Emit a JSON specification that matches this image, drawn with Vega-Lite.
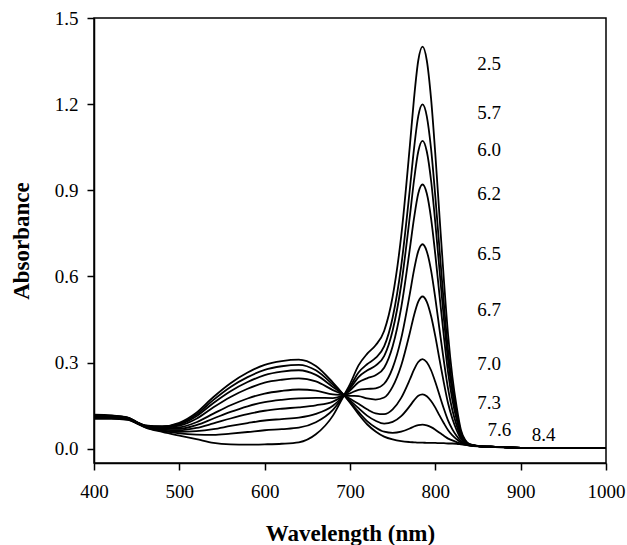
{
  "$schema": "https://vega.github.io/schema/vega-lite/v6.json",
  "width": 512,
  "height": 445,
  "autosize": {"type": "none"},
  "padding": {"left": 94, "top": 18, "right": 21, "bottom": 82},
  "background": "white",
  "config": {
    "font": "Liberation Serif",
    "view": {"stroke": "black", "strokeWidth": 1.5},
    "axis": {
      "grid": false,
      "labelFlush": false,
      "labelOverlap": false,
      "domainColor": "black",
      "domainWidth": 1.5,
      "tickColor": "black",
      "tickWidth": 1.5,
      "tickSize": 7,
      "labelFont": "Liberation Serif",
      "labelFontSize": 19,
      "labelColor": "black",
      "titleFont": "Liberation Serif",
      "titleFontSize": 23,
      "titleFontWeight": "bold",
      "titleColor": "black"
    }
  },
  "datasets": {
    "spectra": [
      {"w":400,"a":0.104,"p":"2.5"},{"w":420,"a":0.104,"p":"2.5"},{"w":440,"a":0.100,"p":"2.5"},{"w":450,"a":0.088,"p":"2.5"},{"w":460,"a":0.074,"p":"2.5"},{"w":480,"a":0.058,"p":"2.5"},{"w":500,"a":0.045,"p":"2.5"},{"w":520,"a":0.033,"p":"2.5"},{"w":540,"a":0.020,"p":"2.5"},{"w":560,"a":0.015,"p":"2.5"},{"w":580,"a":0.014,"p":"2.5"},{"w":600,"a":0.015,"p":"2.5"},{"w":620,"a":0.017,"p":"2.5"},{"w":640,"a":0.022,"p":"2.5"},{"w":660,"a":0.050,"p":"2.5"},{"w":680,"a":0.115,"p":"2.5"},{"w":693,"a":0.186,"p":"2.5"},{"w":700,"a":0.225,"p":"2.5"},{"w":710,"a":0.290,"p":"2.5"},{"w":720,"a":0.330,"p":"2.5"},{"w":730,"a":0.360,"p":"2.5"},{"w":740,"a":0.410,"p":"2.5"},{"w":750,"a":0.530,"p":"2.5"},{"w":760,"a":0.740,"p":"2.5"},{"w":770,"a":1.050,"p":"2.5"},{"w":775,"a":1.219,"p":"2.5"},{"w":780,"a":1.352,"p":"2.5"},{"w":785,"a":1.400,"p":"2.5"},{"w":790,"a":1.352,"p":"2.5"},{"w":795,"a":1.219,"p":"2.5"},{"w":800,"a":1.025,"p":"2.5"},{"w":805,"a":0.805,"p":"2.5"},{"w":810,"a":0.589,"p":"2.5"},{"w":815,"a":0.395,"p":"2.5"},{"w":820,"a":0.250,"p":"2.5"},{"w":825,"a":0.145,"p":"2.5"},{"w":830,"a":0.065,"p":"2.5"},{"w":835,"a":0.030,"p":"2.5"},{"w":840,"a":0.016,"p":"2.5"},{"w":850,"a":0.010,"p":"2.5"},{"w":870,"a":0.006,"p":"2.5"},{"w":900,"a":0.003,"p":"2.5"},{"w":950,"a":0.002,"p":"2.5"},{"w":1000,"a":0.002,"p":"2.5"},

      {"w":400,"a":0.1065,"p":"5.7"},{"w":420,"a":0.106,"p":"5.7"},{"w":440,"a":0.101,"p":"5.7"},{"w":450,"a":0.089,"p":"5.7"},{"w":460,"a":0.075,"p":"5.7"},{"w":480,"a":0.0615,"p":"5.7"},{"w":500,"a":0.053,"p":"5.7"},{"w":520,"a":0.049,"p":"5.7"},{"w":540,"a":0.048,"p":"5.7"},{"w":560,"a":0.0525,"p":"5.7"},{"w":580,"a":0.058,"p":"5.7"},{"w":600,"a":0.064,"p":"5.7"},{"w":620,"a":0.068,"p":"5.7"},{"w":640,"a":0.073,"p":"5.7"},{"w":660,"a":0.092,"p":"5.7"},{"w":680,"a":0.135,"p":"5.7"},{"w":693,"a":0.186,"p":"5.7"},{"w":700,"a":0.2155,"p":"5.7"},{"w":710,"a":0.265,"p":"5.7"},{"w":720,"a":0.294,"p":"5.7"},{"w":730,"a":0.316,"p":"5.7"},{"w":740,"a":0.356,"p":"5.7"},{"w":750,"a":0.457,"p":"5.7"},{"w":760,"a":0.636,"p":"5.7"},{"w":770,"a":0.900,"p":"5.7"},{"w":775,"a":1.044,"p":"5.7"},{"w":780,"a":1.158,"p":"5.7"},{"w":785,"a":1.199,"p":"5.7"},{"w":790,"a":1.1575,"p":"5.7"},{"w":795,"a":1.044,"p":"5.7"},{"w":800,"a":0.878,"p":"5.7"},{"w":805,"a":0.690,"p":"5.7"},{"w":810,"a":0.506,"p":"5.7"},{"w":815,"a":0.340,"p":"5.7"},{"w":820,"a":0.216,"p":"5.7"},{"w":825,"a":0.126,"p":"5.7"},{"w":830,"a":0.0577,"p":"5.7"},{"w":835,"a":0.0275,"p":"5.7"},{"w":840,"a":0.0153,"p":"5.7"},{"w":850,"a":0.009,"p":"5.7"},{"w":870,"a":0.006,"p":"5.7"},{"w":900,"a":0.003,"p":"5.7"},{"w":950,"a":0.002,"p":"5.7"},{"w":1000,"a":0.002,"p":"5.7"},

      {"w":400,"a":0.108,"p":"6.0"},{"w":420,"a":0.108,"p":"6.0"},{"w":440,"a":0.102,"p":"6.0"},{"w":450,"a":0.0895,"p":"6.0"},{"w":460,"a":0.076,"p":"6.0"},{"w":480,"a":0.064,"p":"6.0"},{"w":500,"a":0.0585,"p":"6.0"},{"w":520,"a":0.061,"p":"6.0"},{"w":540,"a":0.068,"p":"6.0"},{"w":560,"a":0.079,"p":"6.0"},{"w":580,"a":0.089,"p":"6.0"},{"w":600,"a":0.098,"p":"6.0"},{"w":620,"a":0.103,"p":"6.0"},{"w":640,"a":0.108,"p":"6.0"},{"w":660,"a":0.121,"p":"6.0"},{"w":680,"a":0.1495,"p":"6.0"},{"w":693,"a":0.186,"p":"6.0"},{"w":700,"a":0.2095,"p":"6.0"},{"w":710,"a":0.2495,"p":"6.0"},{"w":720,"a":0.272,"p":"6.0"},{"w":730,"a":0.289,"p":"6.0"},{"w":740,"a":0.322,"p":"6.0"},{"w":750,"a":0.4115,"p":"6.0"},{"w":760,"a":0.570,"p":"6.0"},{"w":770,"a":0.806,"p":"6.0"},{"w":775,"a":0.934,"p":"6.0"},{"w":780,"a":1.035,"p":"6.0"},{"w":785,"a":1.072,"p":"6.0"},{"w":790,"a":1.035,"p":"6.0"},{"w":795,"a":0.934,"p":"6.0"},{"w":800,"a":0.786,"p":"6.0"},{"w":805,"a":0.618,"p":"6.0"},{"w":810,"a":0.453,"p":"6.0"},{"w":815,"a":0.305,"p":"6.0"},{"w":820,"a":0.195,"p":"6.0"},{"w":825,"a":0.1145,"p":"6.0"},{"w":830,"a":0.053,"p":"6.0"},{"w":835,"a":0.026,"p":"6.0"},{"w":840,"a":0.015,"p":"6.0"},{"w":850,"a":0.009,"p":"6.0"},{"w":870,"a":0.006,"p":"6.0"},{"w":900,"a":0.003,"p":"6.0"},{"w":950,"a":0.002,"p":"6.0"},{"w":1000,"a":0.002,"p":"6.0"},

      {"w":400,"a":0.110,"p":"6.2"},{"w":420,"a":0.109,"p":"6.2"},{"w":440,"a":0.103,"p":"6.2"},{"w":450,"a":0.090,"p":"6.2"},{"w":460,"a":0.077,"p":"6.2"},{"w":480,"a":0.0665,"p":"6.2"},{"w":500,"a":0.064,"p":"6.2"},{"w":520,"a":0.072,"p":"6.2"},{"w":540,"a":0.088,"p":"6.2"},{"w":560,"a":0.105,"p":"6.2"},{"w":580,"a":0.120,"p":"6.2"},{"w":600,"a":0.132,"p":"6.2"},{"w":620,"a":0.139,"p":"6.2"},{"w":640,"a":0.144,"p":"6.2"},{"w":660,"a":0.151,"p":"6.2"},{"w":680,"a":0.164,"p":"6.2"},{"w":693,"a":0.186,"p":"6.2"},{"w":700,"a":0.2024,"p":"6.2"},{"w":710,"a":0.231,"p":"6.2"},{"w":720,"a":0.245,"p":"6.2"},{"w":730,"a":0.256,"p":"6.2"},{"w":740,"a":0.282,"p":"6.2"},{"w":750,"a":0.357,"p":"6.2"},{"w":760,"a":0.4915,"p":"6.2"},{"w":770,"a":0.693,"p":"6.2"},{"w":775,"a":0.802,"p":"6.2"},{"w":780,"a":0.889,"p":"6.2"},{"w":785,"a":0.920,"p":"6.2"},{"w":790,"a":0.8885,"p":"6.2"},{"w":795,"a":0.802,"p":"6.2"},{"w":800,"a":0.675,"p":"6.2"},{"w":805,"a":0.5315,"p":"6.2"},{"w":810,"a":0.391,"p":"6.2"},{"w":815,"a":0.264,"p":"6.2"},{"w":820,"a":0.169,"p":"6.2"},{"w":825,"a":0.1005,"p":"6.2"},{"w":830,"a":0.0476,"p":"6.2"},{"w":835,"a":0.024,"p":"6.2"},{"w":840,"a":0.0143,"p":"6.2"},{"w":850,"a":0.009,"p":"6.2"},{"w":870,"a":0.006,"p":"6.2"},{"w":900,"a":0.003,"p":"6.2"},{"w":950,"a":0.002,"p":"6.2"},{"w":1000,"a":0.002,"p":"6.2"},

      {"w":400,"a":0.111,"p":"6.5"},{"w":420,"a":0.110,"p":"6.5"},{"w":440,"a":0.104,"p":"6.5"},{"w":450,"a":0.0905,"p":"6.5"},{"w":460,"a":0.078,"p":"6.5"},{"w":480,"a":0.0686,"p":"6.5"},{"w":500,"a":0.069,"p":"6.5"},{"w":520,"a":0.082,"p":"6.5"},{"w":540,"a":0.105,"p":"6.5"},{"w":560,"a":0.128,"p":"6.5"},{"w":580,"a":0.1475,"p":"6.5"},{"w":600,"a":0.162,"p":"6.5"},{"w":620,"a":0.170,"p":"6.5"},{"w":640,"a":0.175,"p":"6.5"},{"w":660,"a":0.177,"p":"6.5"},{"w":680,"a":0.176,"p":"6.5"},{"w":693,"a":0.186,"p":"6.5"},{"w":700,"a":0.1926,"p":"6.5"},{"w":710,"a":0.205,"p":"6.5"},{"w":720,"a":0.208,"p":"6.5"},{"w":730,"a":0.210,"p":"6.5"},{"w":740,"a":0.226,"p":"6.5"},{"w":750,"a":0.2815,"p":"6.5"},{"w":760,"a":0.384,"p":"6.5"},{"w":770,"a":0.5375,"p":"6.5"},{"w":775,"a":0.622,"p":"6.5"},{"w":780,"a":0.688,"p":"6.5"},{"w":785,"a":0.712,"p":"6.5"},{"w":790,"a":0.687,"p":"6.5"},{"w":795,"a":0.621,"p":"6.5"},{"w":800,"a":0.5235,"p":"6.5"},{"w":805,"a":0.413,"p":"6.5"},{"w":810,"a":0.305,"p":"6.5"},{"w":815,"a":0.207,"p":"6.5"},{"w":820,"a":0.134,"p":"6.5"},{"w":825,"a":0.081,"p":"6.5"},{"w":830,"a":0.040,"p":"6.5"},{"w":835,"a":0.0215,"p":"6.5"},{"w":840,"a":0.0135,"p":"6.5"},{"w":850,"a":0.009,"p":"6.5"},{"w":870,"a":0.006,"p":"6.5"},{"w":900,"a":0.003,"p":"6.5"},{"w":950,"a":0.002,"p":"6.5"},{"w":1000,"a":0.002,"p":"6.5"},

      {"w":400,"a":0.113,"p":"6.7"},{"w":420,"a":0.112,"p":"6.7"},{"w":440,"a":0.105,"p":"6.7"},{"w":450,"a":0.091,"p":"6.7"},{"w":460,"a":0.0785,"p":"6.7"},{"w":480,"a":0.0708,"p":"6.7"},{"w":500,"a":0.074,"p":"6.7"},{"w":520,"a":0.092,"p":"6.7"},{"w":540,"a":0.122,"p":"6.7"},{"w":560,"a":0.151,"p":"6.7"},{"w":580,"a":0.1746,"p":"6.7"},{"w":600,"a":0.192,"p":"6.7"},{"w":620,"a":0.201,"p":"6.7"},{"w":640,"a":0.206,"p":"6.7"},{"w":660,"a":0.202,"p":"6.7"},{"w":680,"a":0.189,"p":"6.7"},{"w":693,"a":0.186,"p":"6.7"},{"w":700,"a":0.184,"p":"6.7"},{"w":710,"a":0.183,"p":"6.7"},{"w":720,"a":0.175,"p":"6.7"},{"w":730,"a":0.171,"p":"6.7"},{"w":740,"a":0.178,"p":"6.7"},{"w":750,"a":0.216,"p":"6.7"},{"w":760,"a":0.2895,"p":"6.7"},{"w":770,"a":0.402,"p":"6.7"},{"w":775,"a":0.464,"p":"6.7"},{"w":780,"a":0.512,"p":"6.7"},{"w":785,"a":0.530,"p":"6.7"},{"w":790,"a":0.5115,"p":"6.7"},{"w":795,"a":0.462,"p":"6.7"},{"w":800,"a":0.391,"p":"6.7"},{"w":805,"a":0.309,"p":"6.7"},{"w":810,"a":0.229,"p":"6.7"},{"w":815,"a":0.157,"p":"6.7"},{"w":820,"a":0.104,"p":"6.7"},{"w":825,"a":0.064,"p":"6.7"},{"w":830,"a":0.0335,"p":"6.7"},{"w":835,"a":0.019,"p":"6.7"},{"w":840,"a":0.0128,"p":"6.7"},{"w":850,"a":0.009,"p":"6.7"},{"w":870,"a":0.006,"p":"6.7"},{"w":900,"a":0.003,"p":"6.7"},{"w":950,"a":0.002,"p":"6.7"},{"w":1000,"a":0.002,"p":"6.7"},

      {"w":400,"a":0.115,"p":"7.0"},{"w":420,"a":0.113,"p":"7.0"},{"w":440,"a":0.106,"p":"7.0"},{"w":450,"a":0.092,"p":"7.0"},{"w":460,"a":0.079,"p":"7.0"},{"w":480,"a":0.0735,"p":"7.0"},{"w":500,"a":0.080,"p":"7.0"},{"w":520,"a":0.104,"p":"7.0"},{"w":540,"a":0.144,"p":"7.0"},{"w":560,"a":0.180,"p":"7.0"},{"w":580,"a":0.2085,"p":"7.0"},{"w":600,"a":0.230,"p":"7.0"},{"w":620,"a":0.240,"p":"7.0"},{"w":640,"a":0.245,"p":"7.0"},{"w":660,"a":0.234,"p":"7.0"},{"w":680,"a":0.204,"p":"7.0"},{"w":693,"a":0.186,"p":"7.0"},{"w":700,"a":0.1737,"p":"7.0"},{"w":710,"a":0.156,"p":"7.0"},{"w":720,"a":0.137,"p":"7.0"},{"w":730,"a":0.123,"p":"7.0"},{"w":740,"a":0.120,"p":"7.0"},{"w":750,"a":0.137,"p":"7.0"},{"w":760,"a":0.177,"p":"7.0"},{"w":770,"a":0.240,"p":"7.0"},{"w":775,"a":0.275,"p":"7.0"},{"w":780,"a":0.302,"p":"7.0"},{"w":785,"a":0.312,"p":"7.0"},{"w":790,"a":0.301,"p":"7.0"},{"w":795,"a":0.273,"p":"7.0"},{"w":800,"a":0.232,"p":"7.0"},{"w":805,"a":0.185,"p":"7.0"},{"w":810,"a":0.139,"p":"7.0"},{"w":815,"a":0.0975,"p":"7.0"},{"w":820,"a":0.067,"p":"7.0"},{"w":825,"a":0.044,"p":"7.0"},{"w":830,"a":0.0256,"p":"7.0"},{"w":835,"a":0.0166,"p":"7.0"},{"w":840,"a":0.012,"p":"7.0"},{"w":850,"a":0.009,"p":"7.0"},{"w":870,"a":0.006,"p":"7.0"},{"w":900,"a":0.003,"p":"7.0"},{"w":950,"a":0.002,"p":"7.0"},{"w":1000,"a":0.002,"p":"7.0"},

      {"w":400,"a":0.116,"p":"7.3"},{"w":420,"a":0.114,"p":"7.3"},{"w":440,"a":0.107,"p":"7.3"},{"w":450,"a":0.092,"p":"7.3"},{"w":460,"a":0.080,"p":"7.3"},{"w":480,"a":0.0754,"p":"7.3"},{"w":500,"a":0.084,"p":"7.3"},{"w":520,"a":0.113,"p":"7.3"},{"w":540,"a":0.159,"p":"7.3"},{"w":560,"a":0.200,"p":"7.3"},{"w":580,"a":0.232,"p":"7.3"},{"w":600,"a":0.256,"p":"7.3"},{"w":620,"a":0.268,"p":"7.3"},{"w":640,"a":0.273,"p":"7.3"},{"w":660,"a":0.257,"p":"7.3"},{"w":680,"a":0.215,"p":"7.3"},{"w":693,"a":0.186,"p":"7.3"},{"w":700,"a":0.168,"p":"7.3"},{"w":710,"a":0.141,"p":"7.3"},{"w":720,"a":0.115,"p":"7.3"},{"w":730,"a":0.097,"p":"7.3"},{"w":740,"a":0.087,"p":"7.3"},{"w":750,"a":0.093,"p":"7.3"},{"w":760,"a":0.113,"p":"7.3"},{"w":770,"a":0.148,"p":"7.3"},{"w":775,"a":0.168,"p":"7.3"},{"w":780,"a":0.184,"p":"7.3"},{"w":785,"a":0.189,"p":"7.3"},{"w":790,"a":0.1825,"p":"7.3"},{"w":795,"a":0.166,"p":"7.3"},{"w":800,"a":0.143,"p":"7.3"},{"w":805,"a":0.115,"p":"7.3"},{"w":810,"a":0.0885,"p":"7.3"},{"w":815,"a":0.064,"p":"7.3"},{"w":820,"a":0.046,"p":"7.3"},{"w":825,"a":0.0326,"p":"7.3"},{"w":830,"a":0.021,"p":"7.3"},{"w":835,"a":0.015,"p":"7.3"},{"w":840,"a":0.0116,"p":"7.3"},{"w":850,"a":0.009,"p":"7.3"},{"w":870,"a":0.006,"p":"7.3"},{"w":900,"a":0.003,"p":"7.3"},{"w":950,"a":0.002,"p":"7.3"},{"w":1000,"a":0.002,"p":"7.3"},

      {"w":400,"a":0.117,"p":"7.6"},{"w":420,"a":0.115,"p":"7.6"},{"w":440,"a":0.1075,"p":"7.6"},{"w":450,"a":0.093,"p":"7.6"},{"w":460,"a":0.0805,"p":"7.6"},{"w":480,"a":0.0767,"p":"7.6"},{"w":500,"a":0.087,"p":"7.6"},{"w":520,"a":0.119,"p":"7.6"},{"w":540,"a":0.170,"p":"7.6"},{"w":560,"a":0.215,"p":"7.6"},{"w":580,"a":0.249,"p":"7.6"},{"w":600,"a":0.2745,"p":"7.6"},{"w":620,"a":0.287,"p":"7.6"},{"w":640,"a":0.292,"p":"7.6"},{"w":660,"a":0.273,"p":"7.6"},{"w":680,"a":0.223,"p":"7.6"},{"w":693,"a":0.186,"p":"7.6"},{"w":700,"a":0.163,"p":"7.6"},{"w":710,"a":0.128,"p":"7.6"},{"w":720,"a":0.096,"p":"7.6"},{"w":730,"a":0.074,"p":"7.6"},{"w":740,"a":0.059,"p":"7.6"},{"w":750,"a":0.055,"p":"7.6"},{"w":760,"a":0.059,"p":"7.6"},{"w":770,"a":0.070,"p":"7.6"},{"w":775,"a":0.077,"p":"7.6"},{"w":780,"a":0.082,"p":"7.6"},{"w":785,"a":0.084,"p":"7.6"},{"w":790,"a":0.081,"p":"7.6"},{"w":795,"a":0.075,"p":"7.6"},{"w":800,"a":0.066,"p":"7.6"},{"w":805,"a":0.055,"p":"7.6"},{"w":810,"a":0.045,"p":"7.6"},{"w":815,"a":0.035,"p":"7.6"},{"w":820,"a":0.029,"p":"7.6"},{"w":825,"a":0.023,"p":"7.6"},{"w":830,"a":0.0173,"p":"7.6"},{"w":835,"a":0.0138,"p":"7.6"},{"w":840,"a":0.0112,"p":"7.6"},{"w":850,"a":0.009,"p":"7.6"},{"w":870,"a":0.006,"p":"7.6"},{"w":900,"a":0.003,"p":"7.6"},{"w":950,"a":0.002,"p":"7.6"},{"w":1000,"a":0.002,"p":"7.6"},

      {"w":400,"a":0.118,"p":"8.4"},{"w":420,"a":0.116,"p":"8.4"},{"w":440,"a":0.108,"p":"8.4"},{"w":450,"a":0.093,"p":"8.4"},{"w":460,"a":0.081,"p":"8.4"},{"w":480,"a":0.078,"p":"8.4"},{"w":500,"a":0.090,"p":"8.4"},{"w":520,"a":0.125,"p":"8.4"},{"w":540,"a":0.180,"p":"8.4"},{"w":560,"a":0.228,"p":"8.4"},{"w":580,"a":0.265,"p":"8.4"},{"w":600,"a":0.292,"p":"8.4"},{"w":620,"a":0.305,"p":"8.4"},{"w":640,"a":0.310,"p":"8.4"},{"w":660,"a":0.288,"p":"8.4"},{"w":680,"a":0.230,"p":"8.4"},{"w":693,"a":0.186,"p":"8.4"},{"w":700,"a":0.160,"p":"8.4"},{"w":710,"a":0.120,"p":"8.4"},{"w":720,"a":0.085,"p":"8.4"},{"w":730,"a":0.060,"p":"8.4"},{"w":740,"a":0.042,"p":"8.4"},{"w":750,"a":0.032,"p":"8.4"},{"w":760,"a":0.026,"p":"8.4"},{"w":770,"a":0.023,"p":"8.4"},{"w":775,"a":0.022,"p":"8.4"},{"w":780,"a":0.021,"p":"8.4"},{"w":785,"a":0.021,"p":"8.4"},{"w":790,"a":0.020,"p":"8.4"},{"w":795,"a":0.020,"p":"8.4"},{"w":800,"a":0.020,"p":"8.4"},{"w":805,"a":0.019,"p":"8.4"},{"w":810,"a":0.019,"p":"8.4"},{"w":815,"a":0.018,"p":"8.4"},{"w":820,"a":0.018,"p":"8.4"},{"w":825,"a":0.017,"p":"8.4"},{"w":830,"a":0.015,"p":"8.4"},{"w":835,"a":0.013,"p":"8.4"},{"w":840,"a":0.011,"p":"8.4"},{"w":850,"a":0.008,"p":"8.4"},{"w":870,"a":0.005,"p":"8.4"},{"w":900,"a":0.002,"p":"8.4"},{"w":950,"a":0.002,"p":"8.4"},{"w":1000,"a":0.002,"p":"8.4"}
    ],
    "labels": [
      {"t":"2.5","x":863,"y":1.34},
      {"t":"5.7","x":863,"y":1.17},
      {"t":"6.0","x":863,"y":1.041},
      {"t":"6.2","x":863,"y":0.887},
      {"t":"6.5","x":863,"y":0.678},
      {"t":"6.7","x":863,"y":0.482},
      {"t":"7.0","x":863,"y":0.294},
      {"t":"7.3","x":863,"y":0.158},
      {"t":"7.6","x":875,"y":0.065},
      {"t":"8.4","x":927,"y":0.048}
    ]
  },
  "layer": [
    {
      "data": {"name": "spectra"},
      "mark": {"type": "line", "color": "black", "strokeWidth": 1.8, "interpolate": "monotone", "clip": true},
      "encoding": {
        "x": {"field": "w", "type": "quantitative",
              "scale": {"domain": [400, 1000], "nice": false, "zero": false},
              "axis": {"title": "Wavelength (nm)", "values": [400, 500, 600, 700, 800, 900, 1000], "format": "d", "labelPadding": 12, "titlePadding": 21}},
        "y": {"field": "a", "type": "quantitative",
              "scale": {"domain": [-0.05, 1.5], "nice": false, "zero": false},
              "axis": {"title": "Absorbance", "values": [0, 0.3, 0.6, 0.9, 1.2, 1.5], "format": ".1f", "labelPadding": 9, "titlePadding": 21}},
        "detail": {"field": "p", "type": "nominal"}
      }
    },
    {
      "data": {"name": "labels"},
      "mark": {"type": "text", "font": "Liberation Serif", "fontSize": 19, "color": "black", "align": "center", "baseline": "middle"},
      "encoding": {
        "x": {"field": "x", "type": "quantitative"},
        "y": {"field": "y", "type": "quantitative"},
        "text": {"field": "t", "type": "nominal"}
      }
    }
  ]
}
